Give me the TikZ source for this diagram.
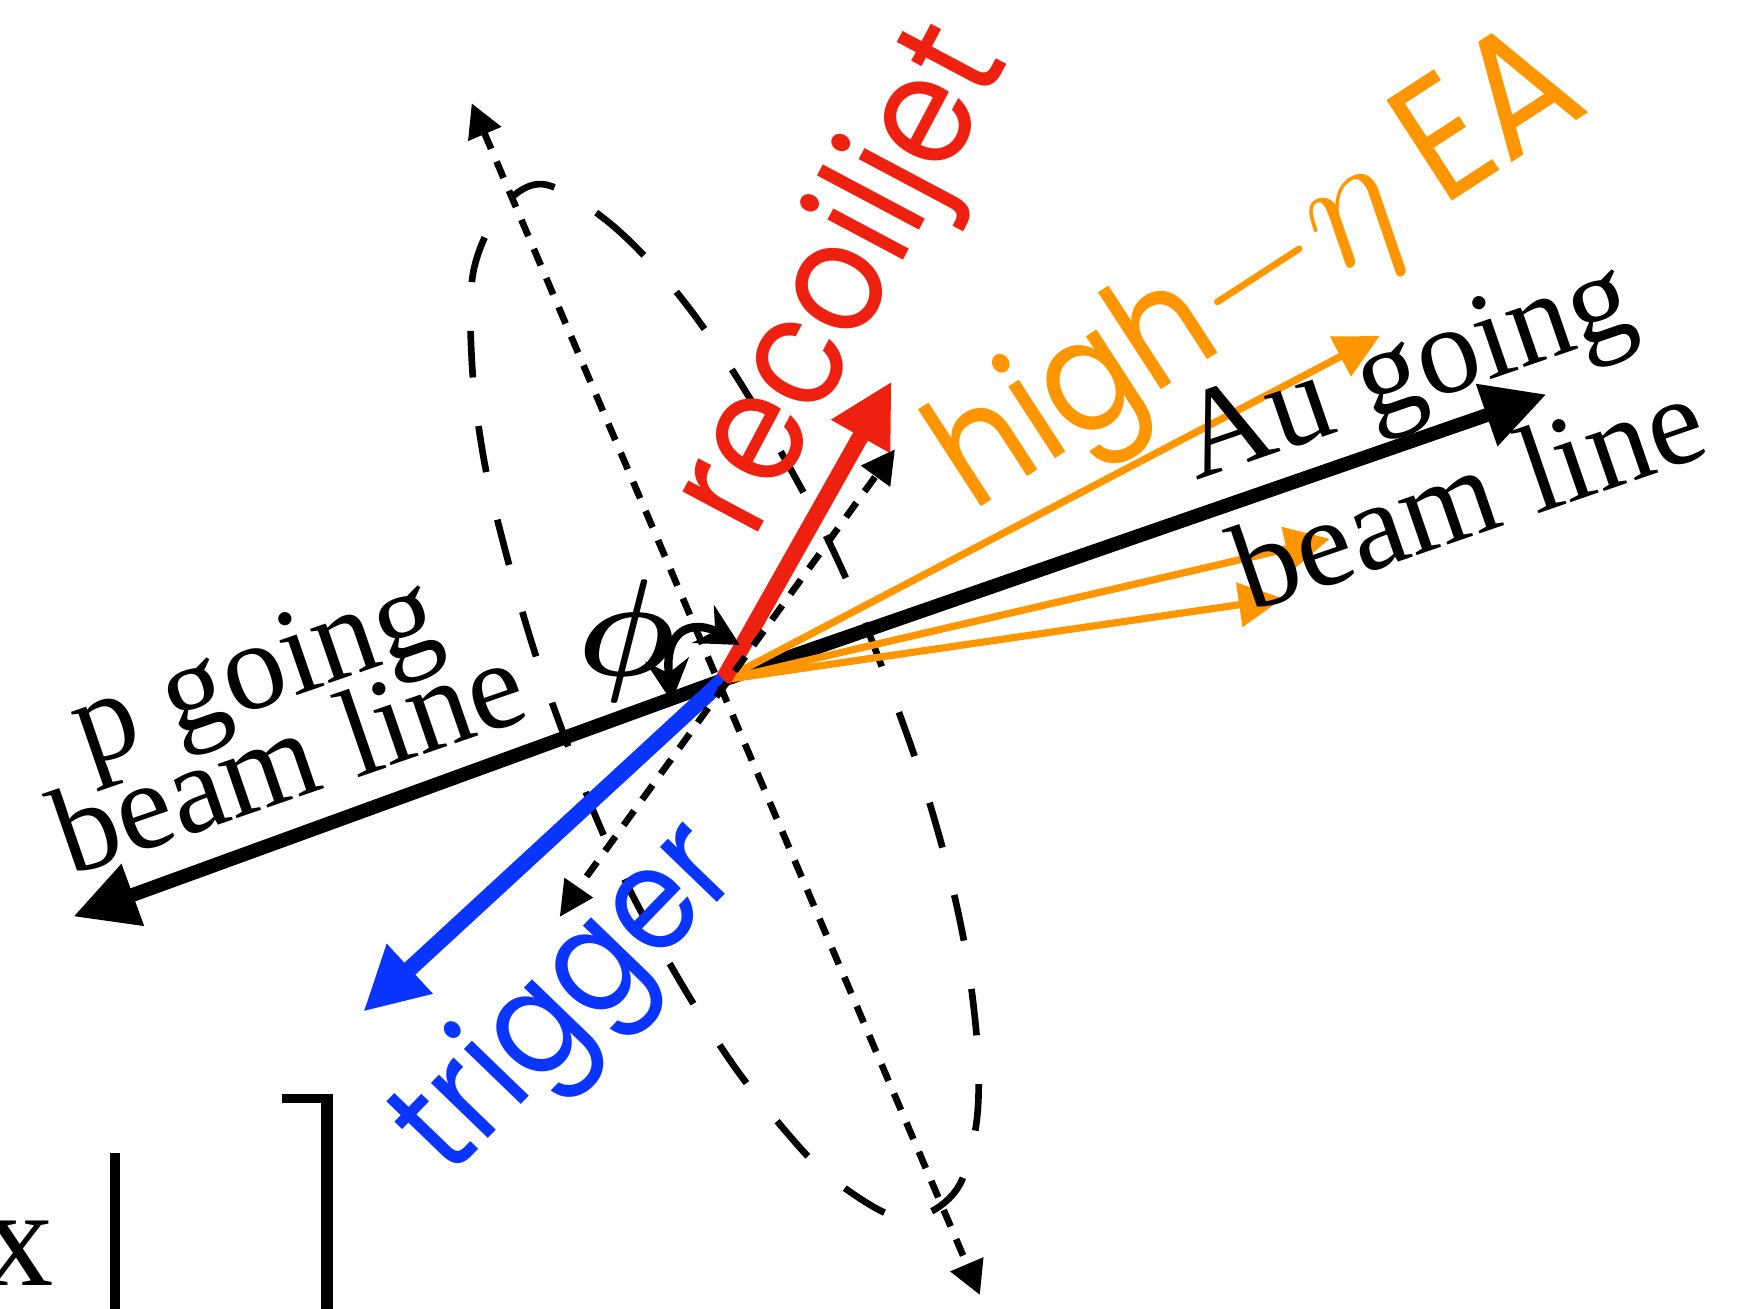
\RequirePackage{fix-cm}
\documentclass[tikz,border=0pt]{standalone}
\usepackage{fontspec}
\setmainfont{Liberation Serif}
\newfontfamily\labelsans[FakeStretch=0.88]{Poppins}
\usetikzlibrary{arrows.meta}
\definecolor{jetred}{RGB}{238,33,17}
\definecolor{trigblue}{RGB}{10,52,255}
\definecolor{eaorange}{RGB}{255,150,0}
\newcommand{\mathbig}[2]{{\fontsize{24.88}{28}\selectfont\scalebox{#1}{$#2$}}}
\tikzset{
  beam/.style={line width=1.25mm,-{Triangle[length=5.7mm,width=5.6mm]}},
  bigarrow/.style={line width=1.5mm,-{Triangle[length=5.7mm,width=5.7mm]}},
  eaarrow/.style={line width=0.65mm,eaorange,-{Triangle[length=4mm,width=3.9mm]}},
  dotline/.style={line width=0.6mm,dash pattern=on 1.6mm off 1.25mm},
  ellipline/.style={line width=0.6mm,dash pattern=on 4.2mm off 4.4mm},
  seriflabel/.style={font=\fontsize{32}{36}\selectfont,inner sep=0pt,anchor=base west,rotate=19},
  sanslabel/.style={font=\labelsans\fontsize{40}{44}\selectfont,inner sep=0pt,anchor=base west},
}
\begin{document}
\begin{tikzpicture}[x=0.1mm,y=-0.1mm]
\useasboundingbox (0,0) rectangle (1568,1178);
% key points
\coordinate (O) at (651,612);
\coordinate (auTip) at (1392,355);
\coordinate (pTip) at (66,825);
\coordinate (jetTip) at (802.6,343.3);
\coordinate (trigTip) at (327,910.6);
\coordinate (eaA) at (1242,302.4);
\coordinate (eaB) at (1197,485);
\coordinate (eaC) at (1155,538.6);
\coordinate (dTop) at (424.6,93);
\coordinate (dBot) at (882,1165.6);
\coordinate (sTop) at (805.6,404.4);
\coordinate (sBot) at (528,789);
\coordinate (phiA) at (604.6,631.6);
\coordinate (phiB) at (666,580.6);
% dashed ellipse
\draw[ellipline] plot[smooth cycle, tension=0.55] coordinates {
 (490,166) (549,201) (609,263) (666,344) (729,454) (767,533) (799,614)
 (828,695) (852,777) (870,860) (880,945) (879,1010) (864,1066) (835,1092)
 (800,1093) (753,1064) (720,1033) (666,967) (619,895) (573,813) (540,744)
 (507,660) (480,583) (456,500) (436,416) (425,330) (426,245) (452,187)};
% beam lines
\draw[beam] (O) -- (auTip);
\draw[beam] (O) -- (pTip);
% orange arrows
\draw[eaarrow] (O) -- (eaA);
\draw[eaarrow] (O) -- (eaB);
\draw[eaarrow] (O) -- (eaC);
% jet and trigger
\draw[bigarrow,jetred] (O) -- (jetTip);
\draw[bigarrow,trigblue,line width=1.45mm] (O) -- (trigTip);
% dotted lines
\draw[dotline,{Triangle[length=3mm,width=3.1mm]}-{Triangle[length=3mm,width=3.1mm]}] (dTop) -- (dBot);
\draw[dotline,-{Triangle[length=3mm,width=3.1mm]}] (sBot) -- (sTop);
\fill (508,790) -- (534,808) -- (504,825) -- cycle;
% phi arc
\draw[line width=0.75mm,{Stealth[length=3.8mm,width=3.9mm]}-{Stealth[length=3.8mm,width=3.9mm]}]
  (phiA) .. controls (597,560) and (630,560) .. (phiB);
\node[inner sep=0pt] (phi) at (564,577) {{\fontsize{24.88}{28}\selectfont\boldmath\scalebox{1.42}{$\phi$}}};
% labels
\node[seriflabel] (pgo) at (78,691) {p going};
\node[seriflabel] (pbl) at (63,789) {beam line};
\node[seriflabel] (aug) at (1076,433) {Au going};
\node[seriflabel] (abl) at (1125,552) {beam line};
\node[sanslabel,jetred,rotate=62] (jetlab) at (678,488) {recoiljet};
\node[sanslabel,trigblue,rotate=46,font=\labelsans\fontsize{37}{40}\selectfont] (triglab) at (404,1062) {trigger};
\node[sanslabel,eaorange,rotate=33] (ealab) at (875,462) {high\mathbig{1.75}{-\eta} {\fontsize{44}{48}\selectfont EA}};
% cut-off fragments at the bottom left
\node[font=\fontsize{36}{40}\selectfont,inner sep=0pt,anchor=base east] (xfrag) at (49,1157) {x};
\fill (99,1038) rectangle (108,1178);
\fill (254,985) rectangle (300,993);
\fill (289,985) rectangle (300,1178);
\end{tikzpicture}
\end{document}
